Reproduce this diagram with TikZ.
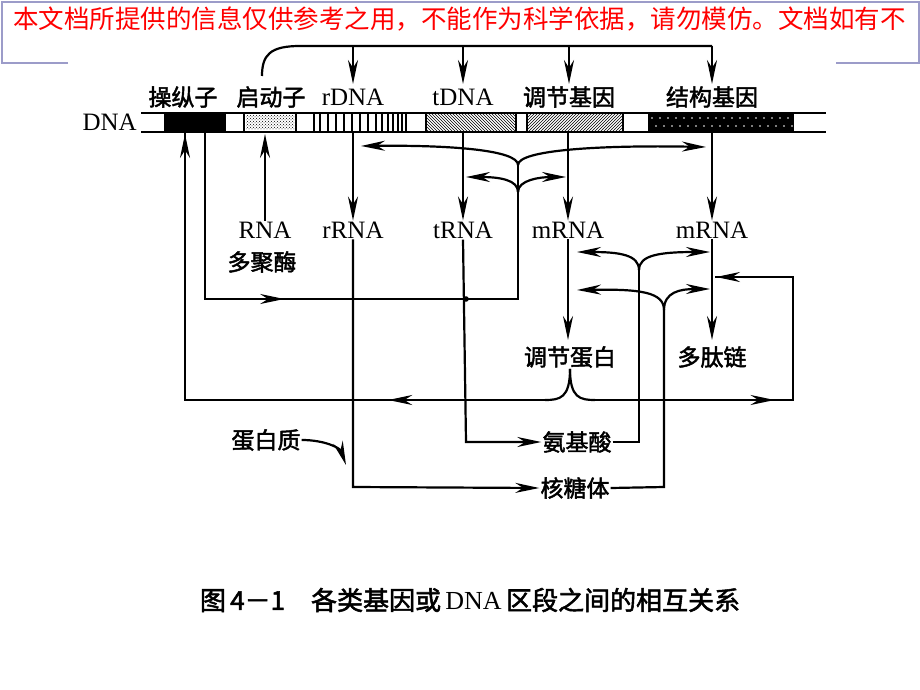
\documentclass[tikz,border=0pt]{standalone}
\usepackage{fontspec}
\setmainfont{Liberation Serif}
\newfontfamily\cjk{Noto Sans CJK SC}
\newfontfamily\cjkb{Noto Sans CJK SC}[FakeBold=2]
\usetikzlibrary{arrows.meta,patterns,decorations.markings}
\begin{document}
\begin{tikzpicture}[x=1pt,y=-1pt,
  ln/.style={line width=2.2pt},
  ar/.style={ln,-{Stealth[length=24pt,width=10pt]}},
  mid/.style={ln,postaction={decorate},decoration={markings,mark=at position #1 with {\arrow{Stealth[length=24pt,width=10pt]}}}},
  lab/.style={font=\cjkb\fontsize{23}{23}\selectfont,inner sep=1pt},
  lat/.style={font=\fontsize{25}{25}\selectfont,inner sep=1pt},
  seg/.style={draw,line width=1.8pt}]
\useasboundingbox (0,0) rectangle (920,690);
\fill[white] (0,0) rectangle (920,690);
% banner
\draw[gray!70!blue!60,line width=1.5pt] (68,63) -- (2,63) -- (2,2) -- (919,2) -- (919,63) -- (836,63);
\node[text=red,font=\cjk\fontsize{25.5}{25.5}\selectfont,anchor=west,inner sep=0] (ban) at (13,19) {本文档所提供的信息仅供参考之用，不能作为科学依据，请勿模仿。文档如有不};
% DNA strip
\node[lat,anchor=east] (dna) at (138,122) {DNA};
\draw[line width=2.2pt] (141,113) -- (826,113);
\draw[line width=2.2pt] (141,132) -- (826,132);
\fill (164,113) rectangle (226,132);
\draw[seg] (244,113) rectangle (296,132);
\fill[pattern=crosshatch dots] (246,116) rectangle (294,129);
\draw[seg] (314,113) rectangle (406,132);
\foreach \x in {320,328,336,344,352,360,368,376,382,388,393,398,402} \draw[line width=2pt] (\x,113) -- (\x,132);
\draw[seg,pattern=north west lines] (426,113) rectangle (516,132);
\draw[seg,pattern=north east lines] (527,113) rectangle (623,132);
\fill (648,113) rectangle (794,132);
\foreach \x in {652,660,...,790} {\fill[white] (\x,118) circle (0.9pt); \fill[white] (\x+4,126) circle (0.9pt);}
% gene labels
\node[lab] (op) at (183,97) {操纵子};
\node[lab] (pr) at (271,97) {启动子};
\node[lat] (rd) at (353,97) {rDNA};
\node[lat] (td) at (463,97) {tDNA};
\node[lab] (rg) at (569,97) {调节基因};
\node[lab] (sg) at (712,97) {结构基因};
% top bracket
\draw[ln] (262,76) .. controls (262,55) and (270,46) .. (300,46) -- (712,46);
\foreach \x in {353,463,569,712} \draw[ar] (\x,46) -- (\x,84);
% products
\node[lat] (rna) at (265,230) {RNA};
\node[lab] (pol) at (262,262) {多聚酶};
\node[lat] (rr) at (353,230) {rRNA};
\node[lat] (tr) at (463,230) {tRNA};
\node[lat] (m1) at (568,230) {mRNA};
\node[lat] (m2) at (712,230) {mRNA};
\draw[ar] (rna.north) -- (265,134);
\draw[ar] (353,133) -- (rr.north);
\draw[ar] (463,133) -- (tr.north);
\draw[ar] (568,133) -- (m1.north);
\draw[ar] (712,133) -- (m2.north);
% braces near DNA
\draw[ar] (518,165) .. controls (518,150) and (450,145) .. (361,146);
\draw[ar] (518,165) .. controls (518,150) and (600,145) .. (706,147);
\draw[ar] (518,192) .. controls (518,180) and (500,177) .. (466,177);
\draw[ar] (518,192) .. controls (518,180) and (540,177) .. (566,177);
\draw[mid=0.4] (205,133) -- (205,299) -- (518,299) -- (518,165);
\fill (466,299) circle (2.8pt);
% second level
\node[lab] (rp) at (570,357) {调节蛋白};
\node[lab] (pp) at (712,357) {多肽链};
\node[lab] (aa) at (577,442) {氨基酸};
\node[lab] (rb) at (575,488) {核糖体};
\node[lab] (prot) at (266,440) {蛋白质};
\draw[ar] (m1.south) -- (568,340);
\draw[ar] (m2.south) -- (712,340);
\draw[ar] (rr.south) -- (353,487) -- (rb.west);
\draw[ar] (tr.south) -- (466,442) -- (aa.west);
\draw[ln] (aa.east) -- (639,442) -- (639,270);
\draw[ar] (639,270) .. controls (639,255) and (620,252) .. (577,252);
\draw[ar] (639,270) .. controls (639,255) and (660,252) .. (710,252);
\draw[ln] (rb.east) -- (664,487) -- (664,310);
\draw[ar] (664,310) .. controls (664,292) and (640,289) .. (577,290);
\draw[ar] (664,310) .. controls (664,292) and (680,289) .. (710,289);
% big loop
\draw[ln] (rp.south) .. controls (570,398) and (560,400) .. (545,400);
\draw[ln] (rp.south) .. controls (570,398) and (580,400) .. (595,400);
\draw[mid=0.25] (545,400) -- (185,400) -- (185,133);
\draw[ar] (185,160) -- (185,134);
\draw[mid=0.45] (595,400) -- (793,400) -- (793,277) -- (715,277);
\draw[ar] (760,277) -- (716,277);
% protein curved arrow
\draw[ar] (prot.east) .. controls (325,440) and (340,448) .. (346,465);
% caption
\node[font=\cjkb\fontsize{26}{26}\selectfont] (cap) at (470,600) {图\,4－1\quad 各类基因或\,{\fontspec{Liberation Serif}DNA}\,区段之间的相互关系};
\end{tikzpicture}
\end{document}
